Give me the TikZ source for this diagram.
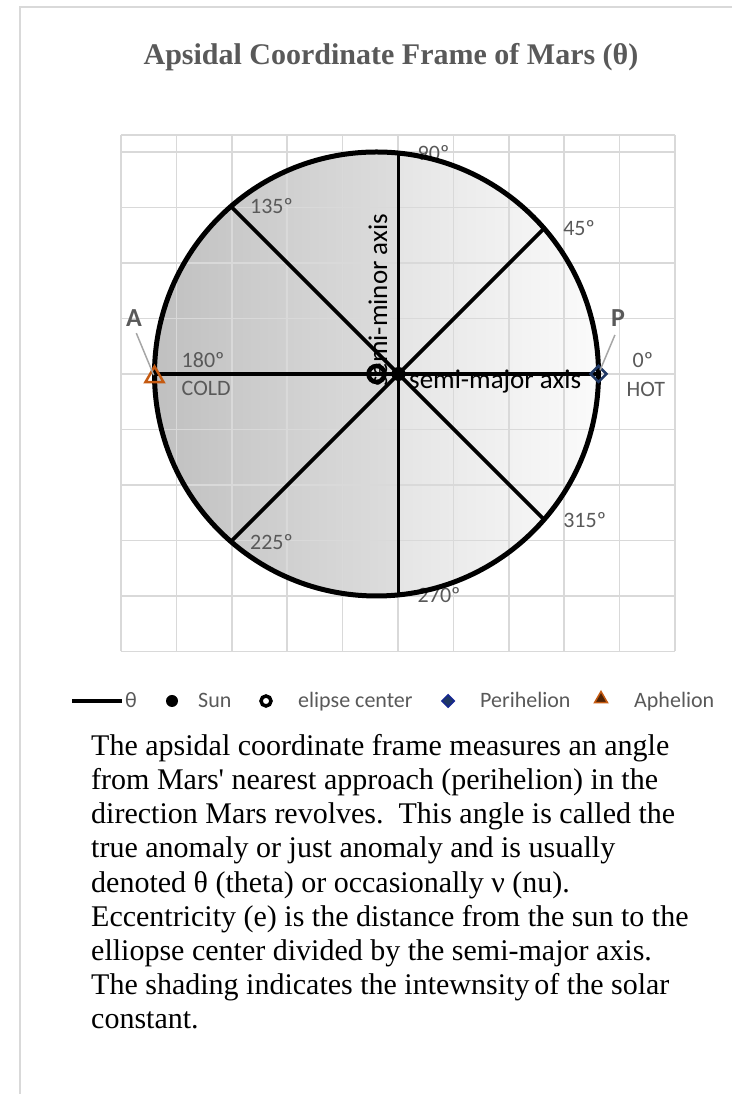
\documentclass[tikz,border=0pt]{standalone}
\usepackage{fontspec}
\setmainfont{Liberation Serif}
\newfontfamily\chartfont{Carlito}
\usetikzlibrary{shapes.geometric, positioning, calc}
\definecolor{txtgray}{RGB}{89,89,89}
\definecolor{gridgray}{RGB}{217,217,217}
\definecolor{leadgray}{RGB}{166,166,166}
\definecolor{peri}{RGB}{31,56,100}
\definecolor{aph}{RGB}{197,90,17}
\definecolor{aphfill}{RGB}{80,35,5}
\definecolor{coldL}{RGB}{192,192,192}
\definecolor{coldR}{RGB}{221,221,221}
\definecolor{hotL}{RGB}{229,229,229}
\definecolor{hotR}{RGB}{251,251,251}

\begin{document}
\begin{tikzpicture}[
      x=1pt, y=1pt,
      gridline/.style = {draw=gridgray, line width=1.6pt},
      orbit/.style    = {draw=black, line width=5pt},
      spoke/.style    = {draw=black, line width=3.6pt},
      anglbl/.style   = {font=\chartfont\fontsize{22}{24}\selectfont, text=txtgray, inner sep=1pt},
      axislbl/.style  = {font=\chartfont\fontsize{27}{30}\selectfont, text=black, inner sep=0pt},
      apsislbl/.style = {font=\chartfont\bfseries\fontsize{26}{28}\selectfont, text=txtgray, inner sep=1pt},
      leader/.style   = {draw=leadgray, line width=1.5pt},
      legtext/.style  = {font=\chartfont\fontsize{22}{24}\selectfont, text=txtgray, anchor=base west, inner sep=0pt},
      sunmark/.style  = {circle, fill=black, minimum size=14pt, inner sep=0pt},
      ctrmark/.style  = {circle, draw=black, line width=4.5pt, minimum size=16pt, inner sep=0pt},
      perimark/.style = {diamond, draw=peri, line width=2.5pt, minimum size=17pt, inner sep=0pt},
      aphmark/.style  = {regular polygon, regular polygon sides=3, draw=aph, line width=2.5pt,
                         minimum size=21pt, inner sep=0pt}
    ]
      \useasboundingbox (0,0) rectangle (732,1094);

      % ===================== Chart frame =====================
      \draw[draw=gridgray, line width=2pt] (20,0) -- (20,1087) -- (732,1087);
      \node[font=\bfseries\fontsize{30}{34}\selectfont, text=txtgray, anchor=base] (title)
        at (391,1029) {Apsidal Coordinate Frame of Mars (θ)};

      % ===================== Orbit geometry =====================
      \coordinate (ctr) at (376.5,720);
      \node[sunmark] (sun) at (398.5,720) {};
      \foreach \a in {0,45,...,315} {
        \pgfmathsetmacro\len{-2.2*cos(\a)+sqrt(4.84*cos(\a)^2+488)}
        \coordinate (e\a) at ($(sun)+(\a:{10*\len})$);
      }

      % shading (solar constant)
      \begin{scope}
        \clip (ctr) circle (222pt);
        \shade[left color=coldL, right color=coldR] (154,497) rectangle (398.5,943);
        \shade[left color=hotL, right color=hotR] (398.5,497) rectangle (599,943);
      \end{scope}

      % grid
      \foreach \i in {0,...,10}
        \draw[gridline] ({121+55.4*\i},442.5) -- ({121+55.4*\i},959);
      \foreach \j in {0,...,9}
        \draw[gridline] (121,{942-55.5*\j}) -- (675,{942-55.5*\j});
      \draw[gridline] (121,959) -- (675,959);

      % ===================== Angle labels =====================
      \foreach \a in {45,90,135,225,270,315}
        \node[anglbl, right=18pt of e\a] (l\a) {{\a}º};
      \node[anglbl, anchor=west] (l180) at ($(e180)+(26,14)$) {180º};
      \node[anglbl, anchor=west] (cold) at ($(e180)+(26,-14)$) {COLD};
      \node[anglbl, anchor=west] (l0)   at ($(e0)+(33,14)$) {0º};
      \node[anglbl, anchor=west] (hot)  at ($(e0)+(27,-15)$) {HOT};

      % ===================== Spokes and orbit =====================
      \foreach \a in {0,45,...,315}
        \draw[spoke] (sun.center) -- (e\a);
      \draw[orbit] (ctr) circle (222pt);

      \node[axislbl, anchor=base west] (majlbl) at (409,705) {semi-major axis};
      \node[axislbl, rotate=90, anchor=base west] (minlbl) at (387,707) {semi-minor axis};

      % markers
      \node[ctrmark] (ctrM) at (ctr) {};
      \node[sunmark] at (sun) {};
      \node[perimark] (periM) at (e0) {};
      \node[aphmark] (aphM) at ($(e180)+(0,-3)$) {};

      % apsis labels
      \node[apsislbl] (lblA) at (134,776) {A};
      \node[apsislbl] (lblP) at (618,776) {P};
      \draw[leader, shorten <=6pt, shorten >=2pt] (lblA.south) -- (aphM.center);
      \draw[leader, shorten <=8pt, shorten >=4pt] (lblP.south) -- (periM.center);

      % ===================== Legend =====================
      \draw[line width=4pt] (72,393) -- (122,393);
      \node[legtext] (legth) at (125,386) {θ};
      \node[sunmark, minimum size=12pt] (legsun) at (172,393) {};
      \node[legtext] (legsuntxt) at (198,386) {Sun};
      \node[ctrmark, minimum size=10pt, line width=3.5pt] (legctr) at (266,393) {};
      \node[legtext] (legctrtxt) at (298,386) {elipse center};
      \node[perimark, fill=peri, draw=peri!70!blue, line width=1.5pt, minimum size=13pt] (legperi) at (448,393) {};
      \node[legtext] (legperitxt) at (480,386) {Perihelion};
      \node[aphmark, fill=aphfill, line width=1.5pt, minimum size=15pt] (legaph) at (601,395) {};
      \node[legtext] (legaphtxt) at (634,386) {Aphelion};

      % ===================== Description =====================
      \node[anchor=north west, align=left, inner sep=0pt, font=\fontsize{30}{34.2}\selectfont] (desc)
        at (91,360) {The apsidal coordinate frame measures an angle\\
        from Mars\textquotesingle\ nearest approach (perihelion) in the\\
        direction Mars revolves.\ \ This angle is called the\\
        true anomaly or just anomaly and is usually\\
        denoted θ (theta) or occasionally ν (nu).\\
        Eccentricity (e) is the distance from the sun to the\\
        elliopse center divided by the semi-major axis.\\
        The shading indicates the intewnsity\,of the solar\\
        constant.};

    \end{tikzpicture}
\end{document}
